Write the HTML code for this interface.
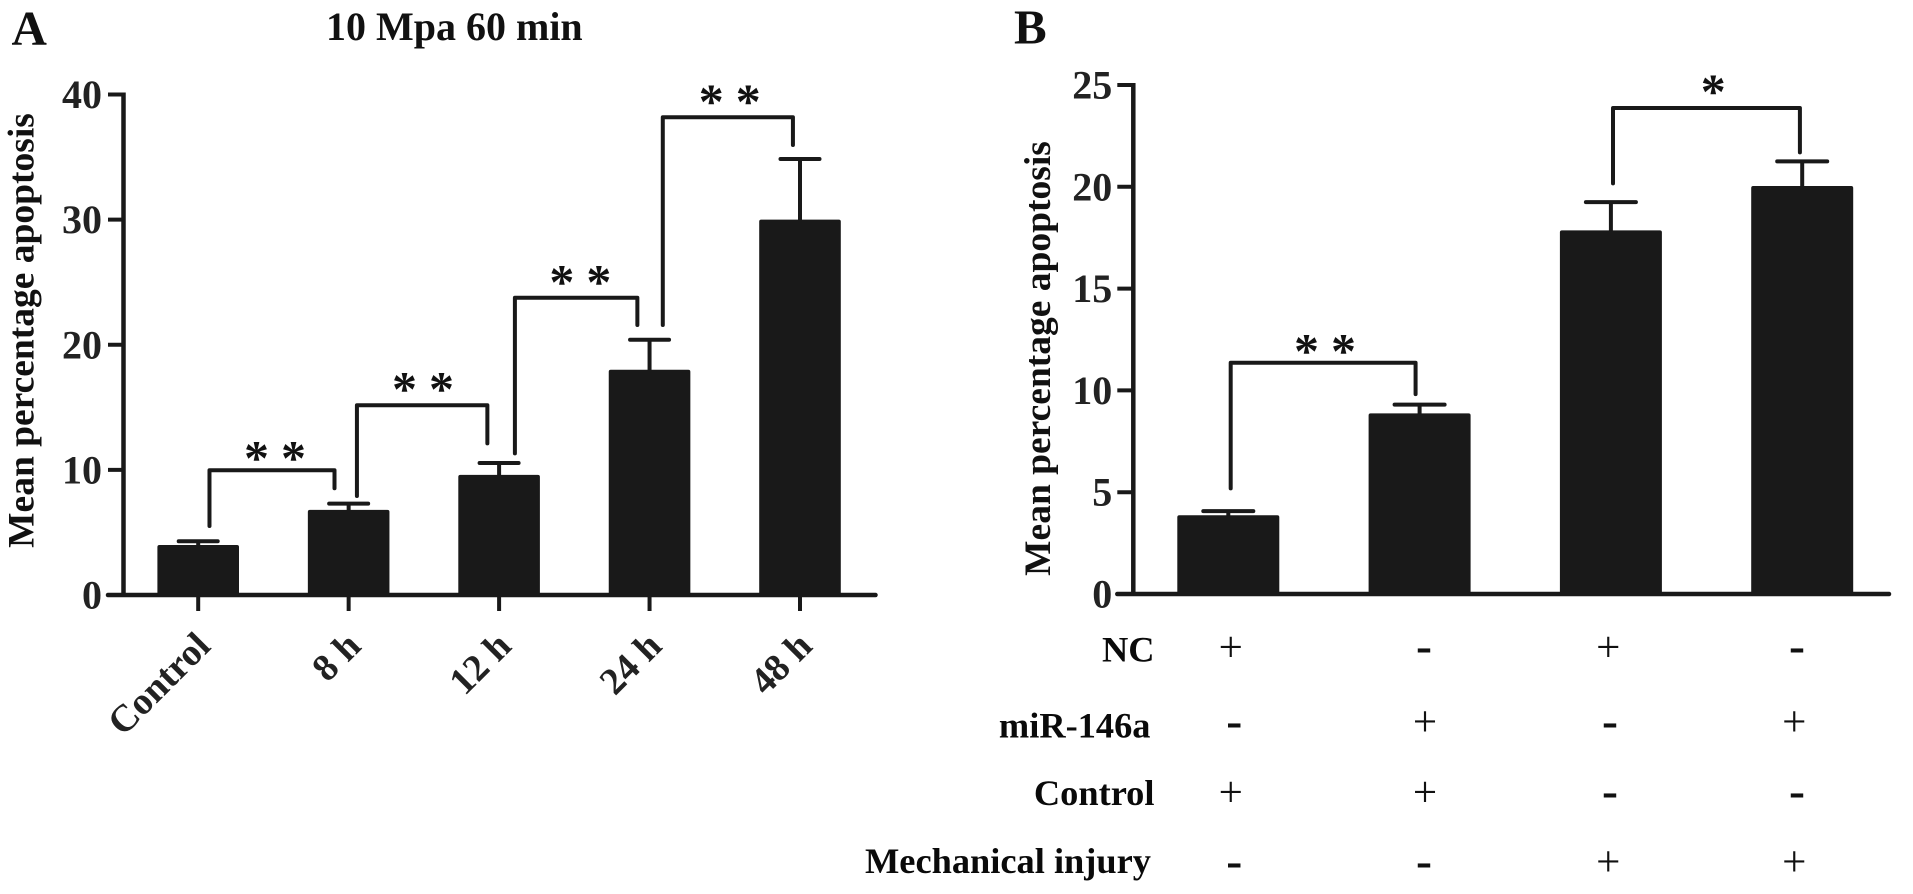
<!DOCTYPE html>
<html>
<head>
<meta charset="utf-8">
<title>Mean percentage apoptosis</title>
<style>
html,body{margin:0;padding:0;background:#fff;width:1913px;height:894px;overflow:hidden}
svg{display:block}
text{font-family:"Liberation Serif",serif;font-weight:bold;fill:#111}
.tick{font-size:40px;text-anchor:end;fill:#222}
.ytitle{font-size:37.5px;text-anchor:middle}
.xlabel{font-size:38px;text-anchor:end;fill:#222}
.row{font-size:36.4px;text-anchor:end;fill:#0a0a0a}
.plus{font-size:43px;font-weight:normal;text-anchor:middle}
.minus{font-size:48px;text-anchor:middle}
.star{font-size:50px;font-weight:bold;text-anchor:middle;fill:#111}
.panel{font-size:49px}
</style>
</head>
<body>
<svg id="figure" xmlns="http://www.w3.org/2000/svg" width="1913" height="894" viewBox="0 0 1913 894">
  <rect width="1913" height="894" fill="#fff"/>
  <text class="panel" x="11.5" y="44.5">A</text>
  <text class="panel" x="1014" y="43.5">B</text>
  <text x="326" y="40" font-size="40">10 Mpa 60 min</text>
  <text class="ytitle" transform="translate(33.5 330.5) rotate(-90)">Mean percentage apoptosis</text>
  <text class="ytitle" transform="translate(1050 358.5) rotate(-90)">Mean percentage apoptosis</text>
  <g id="chartA"></g>
  <g id="chartB"></g>
  <g>
    <text class="row" x="1154.5" y="661.5">NC</text>
    <text class="row" x="1150.5" y="737.3">miR-146a</text>
    <text class="row" x="1154.5" y="805">Control</text>
    <text class="row" x="1151" y="873">Mechanical injury</text>
    <text class="plus" x="1230.7" y="661.5">+</text>
    <text class="minus" x="1424" y="661.7">-</text>
    <text class="plus" x="1608.3" y="661.5">+</text>
    <text class="minus" x="1797" y="661.7">-</text>
    <text class="minus" x="1234.3" y="736.3">-</text>
    <text class="plus" x="1425" y="735.8">+</text>
    <text class="minus" x="1610" y="736.3">-</text>
    <text class="plus" x="1794.3" y="735.8">+</text>
    <text class="plus" x="1230.7" y="806.5">+</text>
    <text class="plus" x="1425" y="806.5">+</text>
    <text class="minus" x="1610" y="806.7">-</text>
    <text class="minus" x="1797" y="806.7">-</text>
    <text class="minus" x="1234.3" y="876.3">-</text>
    <text class="minus" x="1424" y="876.3">-</text>
    <text class="plus" x="1608.3" y="875.8">+</text>
    <text class="plus" x="1794.3" y="875.8">+</text>
  </g>
</svg>
<script>
// Panel A data
const aCategories = ['Control', '8 h', '12 h', '24 h', '48 h'];
const aValues = [4.0, 6.8, 9.6, 18.0, 30.0];
const aErrors = [0.3, 0.5, 0.95, 2.4, 4.85];
const aTicks = [0, 10, 20, 30, 40];
const aBracketStart = [0.075, 1.055, 2.105, 3.088];
const aBracketEnd = [0.906, 1.922, 2.919, 3.953];
const aBracketTop = [9.97, 15.16, 23.76, 38.18];
const aBracketLeftFoot = [5.51, 7.91, 11.32, 21.58];
const aBracketRightFoot = [8.53, 12.12, 21.58, 35.96];
const aBracketStars = ['* *', '* *', '* *', '* *'];
const aStarCenter = [0.5105, 1.4943, 2.54, 3.533];
const aStarLevel = [11.32, 16.84, 25.39, 39.82];

// Panel B data
const bValues = [3.87, 8.87, 17.86, 20.04];
const bErrors = [0.2, 0.43, 1.39, 1.21];
const bTicks = [0, 5, 10, 15, 20, 25];
const bBracketStart = [0.0125, 2.011];
const bBracketEnd = [0.979, 2.988];
const bBracketTop = [11.36, 23.87];
const bBracketLeftFoot = [5.19, 20.17];
const bBracketRightFoot = [9.82, 21.69];
const bBracketStars = ['* *', '*'];
const bStarCenter = [0.5055, 2.535];
const bStarLevel = [12.15, 24.89];

const SVGNS = 'http://www.w3.org/2000/svg';
const INK = '#191919';

function make(parent, tag, attrs, text) {
  const el = document.createElementNS(SVGNS, tag);
  for (const k in attrs) el.setAttribute(k, attrs[k]);
  if (text !== undefined) el.textContent = text;
  parent.appendChild(el);
  return el;
}

function drawChart(cfg) {
  const g = document.getElementById(cfg.id);
  const x = i => cfg.x0 + cfg.step * i;
  const y = v => cfg.y0 - cfg.pxPerUnit * v;
  const top = cfg.ticks[cfg.ticks.length - 1];
  const prefix = cfg.prefix;

  // axes
  const yAxis = make(g, 'line', {x1: cfg.axisX, x2: cfg.axisX, y1: y(top) - 2, y2: cfg.y0 + 2, stroke: INK, 'stroke-width': 4.5});
  
  
  const xAxis = make(g, 'line', {x1: cfg.axisX - cfg.tickLen, x2: cfg.axisEnd, y1: cfg.y0, y2: cfg.y0, stroke: INK, 'stroke-width': 4.5, 'stroke-linecap': 'round'});
  
  

  // y ticks and labels
  cfg.ticks.forEach(t => {
    const tick = make(g, 'line', {x1: cfg.axisX - cfg.tickLen, x2: cfg.axisX, y1: y(t), y2: y(t), stroke: INK, 'stroke-width': 4});
    
    
    const label = make(g, 'text', {class: 'tick', x: cfg.axisX - cfg.labelGap, y: y(t) + 13.5}, String(t));
    
    
  });

  // bars and error bars
  cfg.values.forEach((v, i) => {
    const cx = x(i);
    const capY = y(v + cfg.errors[i]);
    const stem = make(g, 'line', {x1: cx, x2: cx, y1: capY, y2: y(v) + 2, stroke: INK, 'stroke-width': 4});
    
    
    const cap = make(g, 'line', {x1: cx - cfg.capHalf, x2: cx + cfg.capHalf, y1: capY, y2: capY, stroke: INK, 'stroke-width': 4, 'stroke-linecap': 'round'});
    
    
    const bar = make(g, 'rect', {x: cx - cfg.barWidth / 2, y: y(v), width: cfg.barWidth, height: cfg.y0 + 2 - y(v), rx: 2, fill: INK});
    
    
  });

  // x ticks and rotated labels
  if (cfg.categories) {
    cfg.categories.forEach((c, i) => {
      const tick = make(g, 'line', {x1: x(i), x2: x(i), y1: cfg.y0, y2: cfg.y0 + 16, stroke: INK, 'stroke-width': 4});
      
      
      const lx = x(i) + 14;
      const ly = cfg.y0 + 53;
      const label = make(g, 'text', {class: 'xlabel', transform: 'translate(' + lx + ' ' + ly + ') rotate(-45)'}, c);
      
      
    });
  }

  // significance brackets
  cfg.bracketStart.forEach((s, i) => {
    const xl = x(s);
    const xr = x(cfg.bracketEnd[i]);
    const yt = y(cfg.bracketTop[i]);
    const d = 'M' + xl + ' ' + y(cfg.bracketLeftFoot[i]) + 'V' + yt + 'H' + xr + 'V' + y(cfg.bracketRightFoot[i]);
    const path = make(g, 'path', {d: d, fill: 'none', stroke: INK, 'stroke-width': 4, 'stroke-linecap': 'round', 'stroke-linejoin': 'round'});
    
    
    const stars = cfg.bracketStars[i].split(' ');
    const mid = x(cfg.starCenter[i]);
    stars.forEach((st, j) => {
      const sx = mid + (j - (stars.length - 1) / 2) * 37;
      const star = make(g, 'text', {class: 'star', x: sx, y: y(cfg.starLevel[i]) + 21}, st);
      
      
    });
  });
}

drawChart({
  id: 'chartA', prefix: 'panel-a',
  x0: 198.2, step: 150.45, y0: 595, pxPerUnit: 12.5125,
  axisX: 123.5, axisEnd: 875.5, tickLen: 15.5, labelGap: 21.5,
  barWidth: 81.6, capHalf: 19.5,
  categories: aCategories, values: aValues, errors: aErrors, ticks: aTicks,
  bracketStart: aBracketStart, bracketEnd: aBracketEnd, bracketTop: aBracketTop,
  bracketLeftFoot: aBracketLeftFoot, bracketRightFoot: aBracketRightFoot, bracketStars: aBracketStars,
  starCenter: aStarCenter, starLevel: aStarLevel
});
drawChart({
  id: 'chartB', prefix: 'panel-b',
  x0: 1228.3, step: 191.3, y0: 594, pxPerUnit: 20.36,
  axisX: 1133.3, axisEnd: 1889, tickLen: 16, labelGap: 21,
  barWidth: 102, capHalf: 25,
  values: bValues, errors: bErrors, ticks: bTicks,
  bracketStart: bBracketStart, bracketEnd: bBracketEnd, bracketTop: bBracketTop,
  bracketLeftFoot: bBracketLeftFoot, bracketRightFoot: bBracketRightFoot, bracketStars: bBracketStars,
  starCenter: bStarCenter, starLevel: bStarLevel
});
</script>
</body>
</html>
